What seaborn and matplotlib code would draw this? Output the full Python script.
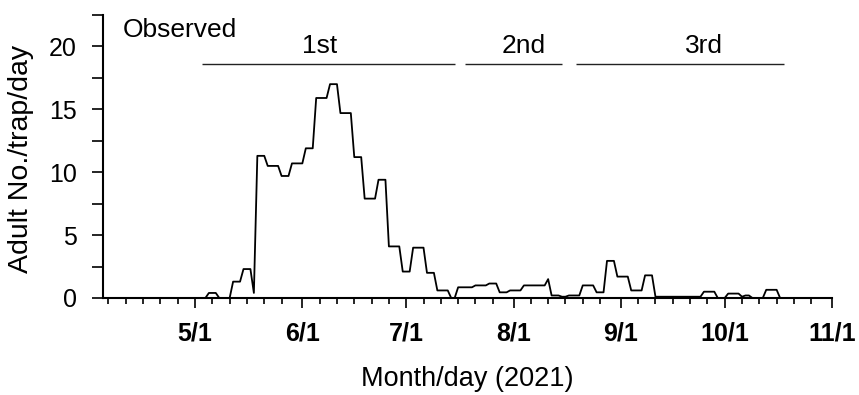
import numpy as np
import pandas as pd
import matplotlib
matplotlib.use("Agg")
import matplotlib.pyplot as plt
import matplotlib.dates as mdates
from matplotlib.ticker import MultipleLocator
import seaborn as sns

# Trap catches: each value holds from its start date until the next start date
start_dates = ["2021-04-05", "2021-05-05", "2021-05-08", "2021-05-12", "2021-05-15",
               "2021-05-18", "2021-05-19", "2021-05-22", "2021-05-26", "2021-05-29",
               "2021-06-02", "2021-06-05", "2021-06-09", "2021-06-12", "2021-06-16",
               "2021-06-19", "2021-06-23", "2021-06-26", "2021-06-30", "2021-07-03",
               "2021-07-07", "2021-07-10", "2021-07-14", "2021-07-16", "2021-07-21",
               "2021-07-25", "2021-07-28", "2021-07-31", "2021-08-04", "2021-08-11",
               "2021-08-12", "2021-08-15", "2021-08-17", "2021-08-21", "2021-08-25",
               "2021-08-28", "2021-08-31", "2021-09-04", "2021-09-08", "2021-09-11",
               "2021-09-25", "2021-09-29", "2021-10-02", "2021-10-06", "2021-10-07",
               "2021-10-09", "2021-10-13", "2021-10-17"]
rates = [0, 0.4, 0, 1.3, 2.3,
         0.4, 11.3, 10.5, 9.7, 10.7,
         11.9, 15.9, 17.0, 14.7, 11.2,
         7.9, 9.4, 4.1, 2.1, 4.0,
         2.0, 0.6, 0, 0.85, 1.0,
         1.15, 0.45, 0.6, 1.0, 1.5,
         0.2, 0.1, 0.2, 1.0, 0.45,
         2.95, 1.7, 0.6, 1.8, 0.1,
         0.5, 0, 0.35, 0.1, 0.2,
         0, 0.65, 0]
end_date = "2021-10-31"

# generations (label, start, end, label position)
gen_labels = ["1st", "2nd", "3rd"]
gen_starts = ["2021-05-03", "2021-07-18", "2021-08-19"]
gen_ends = ["2021-07-15", "2021-08-15", "2021-10-18"]
gen_text_at = ["2021-06-06", "2021-08-04", "2021-09-25"]
gen_y = 18.6

# expand to daily series
s = pd.Series(rates, index=pd.to_datetime(start_dates))
days = pd.date_range(start_dates[0], end_date, freq="D")
daily = s.reindex(days).ffill()
df = pd.DataFrame({"date": days, "count": daily.values})

sns.set_style("ticks")
plt.rcParams["font.family"] = ["Liberation Sans", "DejaVu Sans"]
plt.rcParams["text.color"] = "black"
plt.rcParams["axes.labelcolor"] = "black"
plt.rcParams["xtick.color"] = "black"
plt.rcParams["ytick.color"] = "black"

fig = plt.figure(figsize=(8.59, 3.95), dpi=100)
ax = fig.add_axes([0.1199, 0.2456, 0.8487, 0.7165])

sns.lineplot(data=df, x="date", y="count", color="black", linewidth=1.3, ax=ax)

for lab, a, b, t in zip(gen_labels, gen_starts, gen_ends, gen_text_at):
    ax.hlines(gen_y, pd.Timestamp(a), pd.Timestamp(b), color="#222222", linewidth=1.0)
    ax.text(pd.Timestamp(t), 20.0, lab, ha="center", va="center", fontsize=19)

ax.text(pd.Timestamp("2021-04-10"), 21.3, "Observed", ha="left", va="center", fontsize=19)

ax.set_xlim(pd.Timestamp("2021-04-04 10:00"), pd.Timestamp("2021-11-01"))
ax.set_ylim(0, 22.5)

ax.xaxis.set_major_locator(mdates.MonthLocator(bymonth=range(5, 12)))
ax.xaxis.set_minor_locator(mdates.DayLocator(bymonthday=[1, 6, 11, 16, 21, 26]))
ax.xaxis.set_major_formatter(mdates.DateFormatter("%-m/%-d"))
ax.yaxis.set_major_locator(MultipleLocator(5))
ax.yaxis.set_minor_locator(MultipleLocator(2.5))

ax.tick_params(axis="both", which="major", labelsize=18, width=1.2)
ax.tick_params(axis="x", which="major", length=7, pad=10)
ax.tick_params(axis="x", which="minor", length=4, width=1.2)
ax.tick_params(axis="y", which="major", length=8, pad=11)
ax.tick_params(axis="y", which="minor", length=8, width=1.2)
for lbl in ax.get_xticklabels():
    lbl.set_fontweight("bold")

for sp in ["left", "bottom"]:
    ax.spines[sp].set_linewidth(1.5)
    ax.spines[sp].set_color("black")
sns.despine(ax=ax)

ax.set_xlabel("Month/day (2021)", fontsize=19.5)
ax.set_ylabel("Adult No./trap/day", fontsize=20.5)
ax.xaxis.set_label_coords(0.5, -0.24)
ax.yaxis.set_label_coords(-0.095, 0.49)

fig.savefig("out.png", dpi=100)
